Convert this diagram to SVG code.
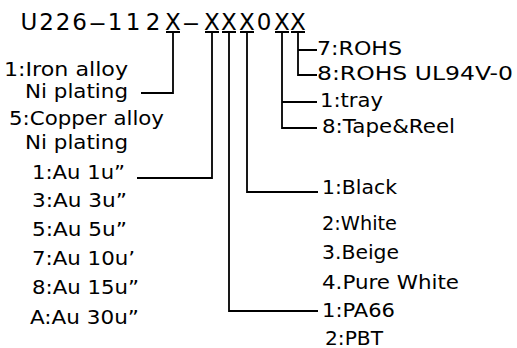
<svg xmlns="http://www.w3.org/2000/svg" width="517" height="348" viewBox="0 0 517 348">
<style>
text{font-family:"DejaVu Sans","Liberation Sans",sans-serif;fill:#000;}
.t{font-size:23px;text-anchor:middle;}
.l{font-size:19px;}
.c{fill:none;stroke:#000;stroke-width:1.8;}
</style>
<rect width="517" height="348" fill="#fff"/>
<g id="title">
<text class="t" y="30"><tspan x="29 46.5 63 79.5">U226</tspan><tspan x="97.5" textLength="19" lengthAdjust="spacingAndGlyphs">-</tspan><tspan x="115 133 153 173">112X</tspan><tspan x="191" textLength="19" lengthAdjust="spacingAndGlyphs">-</tspan><tspan x="212 229 247 264 282 298">XXX0XX</tspan></text>
</g>
<g id="connectors" class="c">
<path d="M166,32H180M205,32H219M222,32H236M240,32H254M275,32H289M291,32H305"/>
<path d="M173,32V93H141"/>
<path d="M212,32V178H137"/>
<path d="M229,32V311H318"/>
<path d="M247,32V192H318"/>
<path d="M282,32V128H317M282,102H317"/>
<path d="M298,32V75H317M298,50H317"/>
</g>
<g id="material">
<text class="l" x="4" y="76" textLength="124" lengthAdjust="spacingAndGlyphs">1:Iron alloy</text>
<text class="l" x="25" y="98" textLength="103" lengthAdjust="spacingAndGlyphs">Ni plating</text>
<text class="l" x="9" y="125" textLength="155" lengthAdjust="spacingAndGlyphs">5:Copper alloy</text>
<text class="l" x="25" y="149" textLength="103" lengthAdjust="spacingAndGlyphs">Ni plating</text>
</g>
<g id="plating">
<text class="l" x="32" y="179" textLength="93" lengthAdjust="spacingAndGlyphs">1:Au 1u”</text>
<text class="l" x="32" y="207" textLength="95" lengthAdjust="spacingAndGlyphs">3:Au 3u”</text>
<text class="l" x="32" y="236" textLength="95" lengthAdjust="spacingAndGlyphs">5:Au 5u”</text>
<text class="l" x="32" y="265" textLength="103" lengthAdjust="spacingAndGlyphs">7:Au 10u’</text>
<text class="l" x="32" y="294" textLength="107" lengthAdjust="spacingAndGlyphs">8:Au 15u”</text>
<text class="l" x="30" y="324" textLength="109" lengthAdjust="spacingAndGlyphs">A:Au 30u”</text>
</g>
<g id="housing">
<text class="l" x="322" y="317" textLength="73" lengthAdjust="spacingAndGlyphs">1:PA66</text>
<text class="l" x="325" y="345" textLength="58" lengthAdjust="spacingAndGlyphs">2:PBT</text>
</g>
<g id="color">
<text class="l" x="322" y="194" textLength="75" lengthAdjust="spacingAndGlyphs">1:Black</text>
<text class="l" x="322" y="230" textLength="75" lengthAdjust="spacingAndGlyphs">2:White</text>
<text class="l" x="322" y="259" textLength="77" lengthAdjust="spacingAndGlyphs">3.Beige</text>
<text class="l" x="322" y="289" textLength="137" lengthAdjust="spacingAndGlyphs">4.Pure White</text>
</g>
<g id="packing">
<text class="l" x="320" y="107" textLength="63" lengthAdjust="spacingAndGlyphs">1:tray</text>
<text class="l" x="322" y="133" textLength="133" lengthAdjust="spacingAndGlyphs">8:Tape&amp;Reel</text>
</g>
<g id="rohs">
<text class="l" x="317" y="55" textLength="85" lengthAdjust="spacingAndGlyphs">7:ROHS</text>
<text class="l" x="317" y="80" textLength="196" lengthAdjust="spacingAndGlyphs">8:ROHS UL94V-0</text>
</g>
</svg>
